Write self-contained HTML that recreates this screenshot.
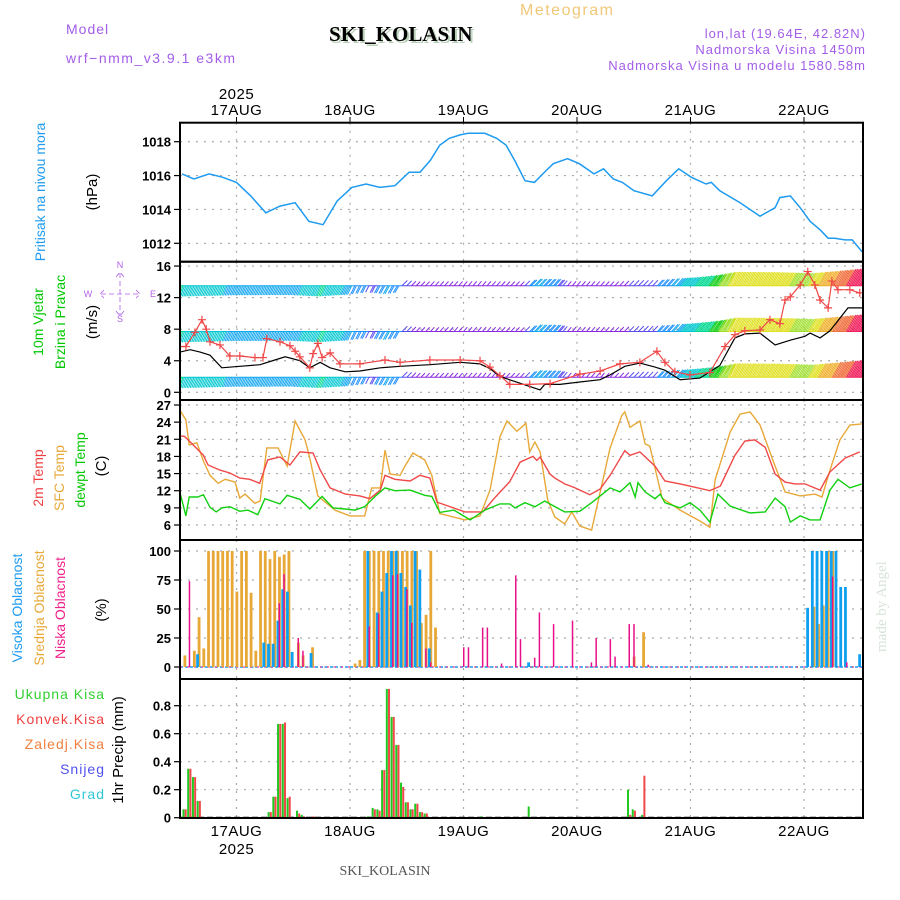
<!DOCTYPE html>
<html><head><meta charset="utf-8">
<style>
html,body{margin:0;padding:0;background:#fff;}
svg{display:block;font-family:"Liberation Sans",sans-serif;}
</style></head>
<body>
<svg id="chart" width="900" height="900" viewBox="0 0 900 900" xmlns="http://www.w3.org/2000/svg">
<g>
<text x="66" y="34" fill="#a35de8" font-size="14" letter-spacing="1">Model</text>
<text x="66" y="63" fill="#a35de8" font-size="14" letter-spacing="1.5">wrf−nmm_v3.9.1 e3km</text>
<text x="520" y="15" fill="#f0c878" font-size="16" letter-spacing="1.5">Meteogram</text>
<text x="331" y="43" fill="#b8d0b8" font-size="21" font-weight="bold" font-family="Liberation Serif,serif">SKI_KOLASIN</text>
<text x="329" y="41" fill="#000" font-size="21" font-weight="bold" font-family="Liberation Serif,serif">SKI_KOLASIN</text>
<text x="866" y="38" fill="#a35de8" font-size="13" letter-spacing="1" text-anchor="end">lon,lat (19.64E, 42.82N)</text>
<text x="866" y="54" fill="#a35de8" font-size="13" letter-spacing="1" text-anchor="end">Nadmorska Visina 1450m</text>
<text x="866" y="70" fill="#a35de8" font-size="13" letter-spacing="1" text-anchor="end">Nadmorska Visina u modelu 1580.58m</text>
<text x="385" y="875" fill="#555" font-size="14" text-anchor="middle" font-family="Liberation Serif,serif">SKI_KOLASIN</text>
<text transform="translate(886,652) rotate(-90)" fill="#d8e4d8" font-size="15" font-family="Liberation Serif,serif">made by Angel</text>
</g>
<g id="axes-labels">
<text transform="translate(45,192) rotate(-90)" fill="#1e9bf0" font-size="14" text-anchor="middle">Pritisak na nivou mora</text>
<text transform="translate(97,192) rotate(-90)" fill="#000" font-size="15" text-anchor="middle">(hPa)</text>
<text transform="translate(43,322) rotate(-90)" fill="#00c800" font-size="14" text-anchor="middle">10m Vjetar</text>
<text transform="translate(65,322) rotate(-90)" fill="#00c800" font-size="14" text-anchor="middle">Brzina i Pravac</text>
<text transform="translate(97,322) rotate(-90)" fill="#000" font-size="15" text-anchor="middle">(m/s)</text>
<g fill="#b05ee8" stroke="#b05ee8" font-size="9">
<text x="120" y="268" text-anchor="middle" stroke="none">N</text>
<text x="120" y="322" text-anchor="middle" stroke="none">S</text>
<text x="88" y="297" text-anchor="middle" stroke="none">W</text>
<text x="153" y="297" text-anchor="middle" stroke="none">E</text>
<path d="M101 294H139M120 273V316M104 290L100 294L104 298M136 290L140 294L136 298M116 277L120 272L124 277M116 311L120 316L124 311" fill="none" stroke-width="0.8" stroke-dasharray="5,3"/>
</g>
<text transform="translate(43,478) rotate(-90)" fill="#f04040" font-size="14" text-anchor="middle">2m Temp</text>
<text transform="translate(64,478) rotate(-90)" fill="#e8a838" font-size="14" text-anchor="middle">SFC Temp</text>
<text transform="translate(85,470) rotate(-90)" fill="#00c800" font-size="14" text-anchor="middle">dewpt Temp</text>
<text transform="translate(106,466) rotate(-90)" fill="#000" font-size="15" text-anchor="middle">(C)</text>
<text transform="translate(22,608) rotate(-90)" fill="#1e9bf0" font-size="14" text-anchor="middle">Visoka Oblacnost</text>
<text transform="translate(44,608) rotate(-90)" fill="#e8a838" font-size="14" text-anchor="middle">Srednja Oblacnost</text>
<text transform="translate(65,608) rotate(-90)" fill="#f0208a" font-size="14" text-anchor="middle">Niska Oblacnost</text>
<text transform="translate(106,610) rotate(-90)" fill="#000" font-size="15" text-anchor="middle">(%)</text>
<text x="105" y="699" fill="#30d030" font-size="14" letter-spacing="1" text-anchor="end">Ukupna Kisa</text>
<text x="105" y="724" fill="#f04040" font-size="14" letter-spacing="1" text-anchor="end">Konvek.Kisa</text>
<text x="105" y="749" fill="#f08040" font-size="14" letter-spacing="1" text-anchor="end">Zaledj.Kisa</text>
<text x="105" y="774" fill="#5050f0" font-size="14" letter-spacing="1" text-anchor="end">Snijeg</text>
<text x="105" y="799" fill="#30c8d8" font-size="14" letter-spacing="1" text-anchor="end">Grad</text>
<text transform="translate(123,750) rotate(-90)" fill="#000" font-size="15" text-anchor="middle">1hr Precip (mm)</text>
</g>
</svg>
<script>
// ---- data ----
const dayLabels = ["17AUG","18AUG","19AUG","20AUG","21AUG","22AUG"];
const yearLabel = "2025";
const pressTicks = [1012,1014,1016,1018];
const windTicks = [0,4,8,12,16];
const tempTicks = [6,9,12,15,18,21,24,27];
const cloudTicks = [0,25,50,75,100];
const precipTicks = [0,0.2,0.4,0.6,0.8];
const precipTickLabels = ["0","0.2","0.4","0.6","0.8"];

const pressHours = [-11.5,-9,-5.8,-2.9,0,3,6.2,9.2,12.4,15.3,18.3,21.3,24.4,27.4,30.3,33.5,36.5,38.8,41,43,45,47.3,49,52.5,55,57,59,61,63,65.5,67,70,72.5,75.6,77.6,79.7,81.6,84.1,87.9,90.9,93.5,96.2,99.3,100.4,102.2,106.5,110.7,113.9,114.9,117.1,119.2,121.3,123.4,125.1,126.5,128.7,130.2,132.3];
const pressVals = [1016.1,1015.8,1016.1,1015.9,1015.6,1014.8,1013.8,1014.2,1014.4,1013.3,1013.1,1014.5,1015.3,1015.5,1015.3,1015.4,1016.2,1016.2,1016.9,1017.8,1018.2,1018.4,1018.5,1018.5,1018.2,1017.8,1016.8,1015.7,1015.6,1016.3,1016.7,1017.0,1016.7,1016.1,1016.4,1015.8,1015.6,1015.1,1014.8,1015.7,1016.4,1015.9,1015.5,1015.6,1015.1,1014.4,1013.6,1014.1,1014.7,1014.8,1014.1,1013.3,1012.8,1012.3,1012.3,1012.2,1012.2,1011.5];

const windHours = [-12,-9.8,-7.7,-5.6,-3.1,0.7,5,8.1,10.3,13.4,15.5,17.7,19.8,23,26.1,30.4,34.6,40.9,47.3,51.5,53.6,55.7,64.2,65.2,68.4,72.6,76.9,79,82.1,85.3,88.5,90.6,93.8,98,102.2,105.4,107.5,110.7,113.9,117.1,120.2,121.3,123.4,125.5,129.3,132.3];
const windSpeed = [5.1,5.4,5.1,4.7,3.1,3.3,3.5,4.1,4.5,4.0,3.1,3.8,3.1,2.6,2.7,3.1,3.3,3.5,3.8,3.6,3.0,2.0,0.3,1.0,1.0,1.3,1.6,2.2,3.3,3.7,3.2,2.8,1.6,1.8,3.4,6.9,7.4,7.5,6.0,6.6,7.1,7.5,6.9,7.8,10.7,10.7];
const gustHours = [-12,-10.7,-8.8,-7.3,-6.4,-5.6,-3.5,-1.4,0.7,3.9,5.6,6.4,9.2,11.3,12.4,13.4,15.5,16.2,17.2,18.1,19.8,21.9,26.1,31.4,34.6,40.9,47.3,51.5,53.6,55.7,57.8,62,66.3,72.6,76.9,81.1,85.3,88.9,90.6,92.7,95.9,100.1,103.3,105.4,107.5,110.7,112.8,114.9,116,117.1,119.2,120.8,122.3,123.4,125.1,125.9,127.2,129.7,131.8];
const gustVals = [5.8,5.8,7.6,9.2,8,6.4,6,4.6,4.6,4.4,4.4,6.8,6.4,5.9,5.2,4.5,3.1,4.9,6.2,4.4,5,3.6,3.6,4.1,3.8,4.1,4.1,4,3.2,2.1,1,1,1.1,2.3,2.7,3.6,3.8,5.2,3.8,2.6,2.2,2.5,5.8,7.3,7.8,7.9,9.2,8.7,11.7,12.1,13.6,15.3,13.6,11.7,10.7,14.1,13,13,12.6];
const dirHours = [-12,0,12,24,34,35,52,60,72,84,96,100,104,120,132];
const dirVals = [20,20,22,25,30,225,220,225,220,225,220,215,205,210,210];
const barbSpdHours = [-12,-6,0,12,18,24,28,32,38,60,63,67,70,80,84,88,92,96,100,104,112,120,126,130,132];
const barbSpdVals = [5,4.5,4,4,5,3.8,2.2,3.5,1.2,1.2,3.6,3.2,1.2,1.2,2.4,2.4,3.8,4.8,6,7.5,7.5,7,9,10.5,11];

const t2Hours = [-12,-11,-10,-9,-7,-6,-3.5,-1.4,0.7,2.8,4.9,6.6,9.2,11.3,13.4,16.2,17.7,19.8,23,26.1,28.2,30.4,31.4,33.5,36.7,38.8,40.9,42.4,48.3,52.1,54.2,57.8,60,62.7,63.5,64.2,66.3,67.3,69.4,71.6,74.7,76.9,79,82.1,83.2,85.3,88.5,90.6,93.8,97,100.1,102.3,105.4,107.5,109.6,111.8,113.9,116,118.1,120.2,123.4,125.5,128.7,131.8];
const t2Vals = [21.6,21.5,20.7,19.9,18.2,16.5,15.6,15.1,14.2,14,13.3,17.4,17.9,16.5,18.8,18.6,15.6,12.5,11.4,11.1,10.6,12.1,14.7,14,13.7,14.7,14.2,10,8.3,8.3,10.4,13.6,17,18,17.3,17.9,14.9,14.2,13.2,12.5,11.3,12.3,14.7,19,18.2,18.8,16.3,13.7,13.2,12.6,12,12.8,18.2,20.7,20.9,19.6,14.9,13.5,13.2,13.2,12.1,15.3,17.7,18.8];
const sfcHours = [-12,-10.7,-10,-8.4,-7,-5.6,-3.9,-2.4,-0.3,0.7,1.8,3.9,5,6.4,8.8,10.7,12.4,14.5,15.5,17.2,20.8,24,27.1,28.6,30.4,31.4,32.5,34.6,35.6,37.3,39.8,41.3,43,48.3,51.5,53.6,55.7,57.2,59.3,61.2,62,63.1,64.2,65.8,67.3,69.4,70.9,72.6,75.1,76.9,79,81.5,82.1,83.2,85.3,86.4,87.4,90,93.8,98,100.1,101.2,104.4,106.5,108.6,110.7,113.9,116,119.2,122.3,123.8,125.5,127.6,129.7,132.2];
const sfcVals = [26.1,24.4,20,20.4,17.2,14.7,13.3,14,13.5,10.7,11.4,9.8,10.2,19.5,19.5,16.3,24.2,20.9,17.7,11.1,8.6,7.6,7.6,12.5,12.5,19.1,14.9,14.7,16.3,18.6,17.4,14.7,8,6.9,7.6,12.1,21.4,24.2,22.4,23.8,18.8,20.5,18.8,10.4,7.4,6.2,8.3,5.8,5.1,11.8,19.5,25.2,25.8,23.1,24.2,20.2,19.8,10.7,8.6,6.7,5.6,13.9,22.3,25.4,25.8,23.5,16.3,11.8,11.1,11.4,10.9,15.6,20.9,23.5,23.7];
const dewHours = [-12,-10.7,-10,-8.2,-7,-5.6,-4.3,-3.1,-1.4,0.7,2.4,4.5,6,8.1,9.2,10.7,13.4,15.5,18.1,20.4,23,25,27.1,29.3,31.4,33.5,36.7,39.8,41.3,43,46,49.4,52.5,55.7,57.8,58.9,61,63.1,65.2,66.7,69.4,72.6,75.1,76.9,79,81.1,83.2,84.3,84.9,86.4,88.5,89.6,90.6,93.8,95.9,98,100.1,101.8,104.4,108.6,111.8,113.9,116,117.1,119.2,121.3,123.4,125.5,127.2,129.7,132.2];
const dewVals = [11.8,7.6,10.9,10.9,11.3,9.1,8.3,9,9.2,8.4,8.6,7.8,10.6,10,9.7,11.2,10.5,8.8,11,9,8.8,8.6,9.2,11,12.5,12,12.1,11.2,11,8.2,8.6,6.9,8.6,9.7,9.7,9,9.9,9.2,10.2,9.5,8.3,8.4,9.9,11.1,12.5,11.8,13.4,10.9,13.4,11.8,10.6,11.4,9.9,9,9.9,8.6,6.5,11.4,9.3,8.1,8.3,10.7,9.2,6.5,7.6,6.9,6.9,12.1,14,12.5,13.2];

const midHours = [-11,-9,-8,-7,-6,-5,-4,-3,-2,-1,0,1,2,3,4,5,6,7,8,9,10,11,13,14,16,25,26,27,28,29,30,31,32,33,34,35,36,37,38,39,40,41,42,84,86,122,123,124,125,126];
const midVals = [10,14,43,16,100,100,100,100,100,100,65,100,100,64,14,100,100,93,100,95,97,100,21,10,17,3,6,100,100,100,100,100,100,100,100,100,100,100,100,38,45,100,34,9,30,52,37,53,100,100];
const highHours = [-8,6,7,8,9,10,11,12,16,28,30,31,32,33,34,35,36,37,38,39,41,62,121,122,123,124,125,126,127,128,129,132];
const highVals = [11,21,20,20,40,67,65,13,12,100,47,65,81,100,100,81,69,53,100,84,16,4,51,100,100,100,100,100,100,69,69,11];
const lowHours = [-10,9,10,13,14,28,30,33,34,36,37,40,41,48,49,52,53,56,59,60,63,64,67,71,75,76,79,80,83,84,87,126,129];
const lowVals = [74,55,80,25,14,35,46,79,80,67,38,16,4,17,17,34,34,3,79,24,8,47,37,40,4,25,24,9,37,37,2,78,4];

const precipHours = [-11,-10,-9,-8,7,8,9,10,11,13,14,16,28,29,30,31,32,33,34,35,36,37,38,39,40,52,62,83,84,86];
const precipTotal = [0.06,0.35,0.29,0.12,0.04,0.15,0.67,0.67,0.14,0.05,0.02,0,0.01,0.07,0.06,0.34,0.92,0.72,0.52,0.25,0.11,0.06,0.10,0.04,0.03,0.01,0.08,0.20,0.06,0.02];
const precipConv = [0.06,0.35,0.29,0.12,0.04,0.15,0.67,0.68,0.15,0.03,0.01,0.01,0,0.06,0.05,0.34,0.92,0.72,0.52,0.22,0.11,0.06,0.10,0.04,0.03,0,0,0.02,0.05,0.30];

// ---- scales ----
const X0=180, X1=863;
function xOf(h){return 236.5+h*4.729;}
const P={top:122.7,bot:261.7}, W={top:261.7,bot:400}, T={top:400,bot:540}, C={top:540,bot:679}, R={top:679,bot:818};
function yP(v){return 243.3-(v-1012)*16.93;}
function yW(v){return 392.3-v*7.89;}
function yT(v){return 525-(v-6)*5.714;}
function yC(v){return 667-v*1.16;}
function yR(v){return 817.7-v*140;}

const svg=document.getElementById('chart');
const NS='http://www.w3.org/2000/svg';
function mk(tag,attrs,parent){const e=document.createElementNS(NS,tag);for(const k in attrs)e.setAttribute(k,attrs[k]);(parent||svg).appendChild(e);return e;}

const defs=mk('defs',{});
[['cp-p',P],['cp-w',W],['cp-t',T],['cp-c',C],['cp-r',R]].forEach(([id,pn])=>{
  const c=mk('clipPath',{id:id},defs);mk('rect',{x:X0,y:pn.top,width:X1-X0,height:pn.bot-pn.top},c);
});

const grid=mk('g',{stroke:'#aaa','stroke-width':1.2,'stroke-dasharray':'2,6',fill:'none'});


[P,W,T,C,R].forEach(pn=>{
  for(let d=0;d<dayLabels.length;d++){const x=xOf(d*24);mk('line',{x1:x,x2:x,y1:pn.top,y2:pn.bot},grid);}
});
function hgrid(ticks,f,pn){ticks.forEach(v=>{const y=f(v);if(y>pn.top+3&&y<pn.bot-3)mk('line',{x1:X0,x2:X1,y1:y,y2:y},grid);});}
hgrid(pressTicks,yP,P);hgrid(windTicks,yW,W);hgrid(tempTicks,yT,T);hgrid(cloudTicks,yC,C);hgrid(precipTicks,yR,R);

function yLabels(ticks,f,labels,name){
  const g=mk('g',{'font-size':13,'font-weight':'bold',fill:'#000','text-anchor':'end'});
  
  
  ticks.forEach((v,i)=>{const y=f(v);const t=mk('text',{x:171,y:y+5},g);t.textContent=labels?labels[i]:String(v);
    mk('line',{x1:174,x2:180,y1:y,y2:y,stroke:'#000','stroke-width':1.2},g);});
}
yLabels(pressTicks,yP,null,'pressure-y-ticks');
yLabels(windTicks,yW,null,'wind-y-ticks');
yLabels(tempTicks,yT,null,'temp-y-ticks');
yLabels(cloudTicks,yC,null,'cloud-y-ticks');
yLabels(precipTicks,yR,precipTickLabels,'precip-y-ticks');

const xl=mk('g',{'font-size':15,fill:'#000','text-anchor':'middle','letter-spacing':'0.5'});


dayLabels.forEach((d,i)=>{const x=xOf(i*24);
  const a=mk('text',{x:x,y:115},xl);a.textContent=d;
  const b=mk('text',{x:x,y:836},xl);b.textContent=d;
  mk('line',{x1:x,x2:x,y1:117,y2:123,stroke:'#000'},xl);
});
const y1=mk('text',{x:xOf(0),y:99},xl);y1.textContent=yearLabel;
const y2=mk('text',{x:xOf(0),y:854},xl);y2.textContent=yearLabel;

function pathOf(hs,vs,f){return hs.map((h,i)=>(i?'L':'M')+xOf(h).toFixed(1)+' '+f(vs[i]).toFixed(1)).join('');}

const pl=mk('path',{d:pathOf(pressHours,pressVals,yP),fill:'none',stroke:'#1e9bf0','stroke-width':1.5,'clip-path':'url(#cp-p)'});



function interp(hs,vs,h){if(h<=hs[0])return vs[0];for(let i=1;i<hs.length;i++){if(h<=hs[i]){const f=(h-hs[i-1])/(hs[i]-hs[i-1]);return vs[i-1]+f*(vs[i]-vs[i-1]);}}return vs[vs.length-1];}
function spdColor(s){const c=[[1.8,'#8a2be2'],[2.6,'#5a4cf0'],[3.5,'#1e90ff'],[4.2,'#14a8f0'],[5,'#00c8d0'],[5.8,'#00d890'],[6.5,'#20d020'],[7.2,'#a0e030'],[8,'#e0e020'],[9,'#f0b030'],[10,'#f07040'],[99,'#f02060']];for(const[k,v]of c)if(s<k)return v;return '#f02060';}
const barbs=mk('g',{'clip-path':'url(#cp-w)','stroke-width':1,fill:'none'});


[1.9,7.7,13.5].forEach(row=>{
  const y0=yW(row);
  for(let h=-12;h<=132;h++){
    const s=interp(barbSpdHours,barbSpdVals,h), d=interp(dirHours,dirVals,h);
    const x=xOf(h), col=spdColor(s);
    const g=mk('g',{stroke:col},barbs);
    mk('line',{x1:x,y1:y0,x2:x+5,y2:y0},g);
    const a=(d+180)*Math.PI/180, L=4+s*1.5;
    const fx=Math.sin(a)*L, fy=-Math.cos(a)*L;
    const n=Math.max(1,Math.round(s/1.6));
    for(let k=0;k<n;k++){const bx=x+k*1.6;mk('line',{x1:bx,y1:y0,x2:bx+fx,y2:y0+fy},g);}
  }
});
const ws=mk('path',{d:pathOf(windHours,windSpeed,yW),fill:'none',stroke:'#000','stroke-width':1.2,'clip-path':'url(#cp-w)'});


const gg=mk('g',{stroke:'#f04848','stroke-width':1.2,fill:'none','clip-path':'url(#cp-w)'});


mk('path',{d:pathOf(gustHours,gustVals,yW)},gg);
gustHours.forEach((h,i)=>{const x=xOf(h),y=yW(gustVals[i]);mk('path',{d:`M${x-4} ${y}H${x+4}M${x} ${y-4}V${y+4}`},gg);});

[[sfcHours,sfcVals,'#e8a838','sfc-temp-line'],[t2Hours,t2Vals,'#f04848','temp-2m-line'],[dewHours,dewVals,'#10d010','dewpoint-line']].forEach(([hs,vs,c,n])=>{
  const p=mk('path',{d:pathOf(hs,vs,yT),fill:'none',stroke:c,'stroke-width':1.4,'clip-path':'url(#cp-t)'});
  
  
});

const cg=mk('g',{'clip-path':'url(#cp-c)'});


mk('line',{x1:X0,x2:X1,y1:yC(0),y2:yC(0),stroke:'#1e9bf0','stroke-width':1.5,'stroke-dasharray':'3,2'},cg);
mk('line',{x1:X0,x2:X1,y1:yC(0),y2:yC(0),stroke:'#f0208a','stroke-width':1,'stroke-dasharray':'2,5'},cg);
midHours.forEach((h,i)=>{const r=mk('rect',{x:xOf(h)-1,y:yC(midVals[i]),width:2.8,height:yC(0)-yC(midVals[i]),fill:'#e8a838'},cg);
  });
highHours.forEach((h,i)=>{const r=mk('rect',{x:xOf(h)-2.5,y:yC(highVals[i]),width:2.8,height:yC(0)-yC(highVals[i]),fill:'#10a0f0'},cg);
  });
lowHours.forEach((h,i)=>{const r=mk('rect',{x:xOf(h)-0.5,y:yC(lowVals[i]),width:1.5,height:yC(0)-yC(lowVals[i]),fill:'#e8108a'},cg);
  });

const rg=mk('g',{'clip-path':'url(#cp-r)'});


mk('line',{x1:X0,x2:X1,y1:yR(0),y2:yR(0),stroke:'#000','stroke-width':2,'stroke-dasharray':'6,3'},rg);
precipHours.forEach((h,i)=>{
  const x=xOf(h);
  if(precipTotal[i]>0){const r=mk('rect',{x:x-2,y:yR(precipTotal[i]),width:2,height:yR(0)-yR(precipTotal[i]),fill:'#20c820'},rg);}
  if(precipConv[i]>0){const r=mk('rect',{x:x+0.2,y:yR(precipConv[i]),width:2,height:yR(0)-yR(precipConv[i]),fill:'#f04848'},rg);}
});

const bd=mk('g',{fill:'none',stroke:'#000','stroke-width':2});


[P,W,T,C,R].forEach(pn=>mk('rect',{x:X0,y:pn.top,width:X1-X0,height:pn.bot-pn.top},bd));
</script>
</body></html>
